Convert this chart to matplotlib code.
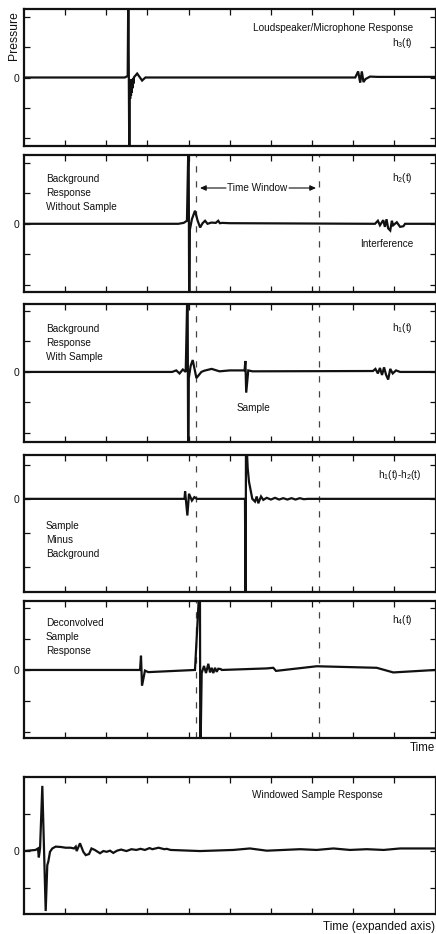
import matplotlib
matplotlib.use("Agg")
import matplotlib.pyplot as plt

plt.rcParams['font.family'] = ['Liberation Sans', 'DejaVu Sans']
plt.rcParams['mathtext.fontset'] = 'custom'
plt.rcParams['mathtext.rm'] = 'Liberation Sans'
plt.rcParams['mathtext.it'] = 'Liberation Sans'

# ---------------- data (time in arbitrary units 0..10) ----------------
# Panel 1: loudspeaker/microphone response h3(t)
t1 = [0, 2.45, 2.52, 2.535, 2.56, 2.57, 2.58, 2.59, 2.60, 2.61, 2.62, 2.63, 2.64, 2.65,
      2.66, 2.67, 2.68, 2.75, 2.87, 2.95, 8.05, 8.12, 8.17, 8.21, 8.25, 8.30, 8.41, 8.6, 10]
y1 = [0, 0.0, 0.05, 3.0, -3.0, -0.3, -0.7, -0.05, -0.6, -0.05, -0.5, -0.05, -0.35, -0.02,
      -0.2, 0.0, 0.02, 0.13, -0.1, 0.0, 0.0, 0.2, -0.17, 0.2, -0.15, -0.05, 0.03, 0.02, 0.02]

# Panel 2: background without sample h2(t)
t2 = [0, 3.75, 3.88, 3.96, 4.00, 4.015, 4.03, 4.08, 4.155, 4.22, 4.28, 4.34, 4.40, 4.46,
      4.55, 4.66, 4.72, 4.76, 4.82, 5.0, 8.53, 8.60, 8.65, 8.73, 8.77, 8.81, 8.85, 8.90,
      8.94, 8.97, 9.06, 9.14, 9.22, 9.26, 10]
y2 = [0, 0.0, 0.03, 0.1, 3.0, -3.0, -0.2, 0.15, 0.43, 0.1, -0.12, 0.02, 0.1, 0.0,
      0.04, 0.03, 0.1, 0.02, 0.03, 0.02, 0.0, 0.1, -0.05, 0.12, -0.1, 0.15, -0.15, -0.22,
      0.1, -0.05, 0.05, -0.1, -0.08, 0.0, 0.0]

# Panel 3: background with sample h1(t)
t3 = [0, 3.60, 3.70, 3.78, 3.86, 3.93, 3.975, 3.99, 4.005, 4.05, 4.10, 4.19, 4.31, 4.38,
      4.56, 4.75, 5.0, 5.36, 5.38, 5.40, 5.45, 5.55, 8.48, 8.54, 8.60, 8.65, 8.70, 8.75,
      8.80, 8.85, 8.90, 8.96, 9.04, 9.14, 10]
y3 = [0, 0.0, 0.05, -0.05, 0.08, 0.0, 3.0, -3.0, -0.2, 0.2, 0.39, -0.2, 0.0, 0.04,
      0.1, 0.02, 0.05, 0.05, 0.36, -0.68, 0.05, 0.02, 0.03, 0.1, -0.05, 0.13, -0.1, 0.15,
      -0.1, -0.25, 0.1, -0.05, 0.05, 0.0, 0.0]

# Panel 4: sample minus background h1(t)-h2(t)
t4 = [0, 3.90, 3.915, 3.97, 4.01, 4.08, 4.14, 4.20, 5.37, 5.385, 5.395, 5.436, 5.468,
      5.516, 5.548, 5.614, 5.655, 5.694, 5.76, 5.815, 5.898, 6.0, 6.1, 6.2, 6.3, 6.4,
      6.5, 6.6, 6.7, 6.8, 6.9, 10]
y4 = [0, 0.0, 0.22, -0.49, 0.15, -0.05, 0.05, 0.0, 0.0, -3.5, 2.0, 0.9, 0.5,
      0.2, 0.0, -0.08, 0.07, -0.13, 0.07, -0.03, 0.03, -0.02, 0.03, -0.02, 0.02, -0.02,
      0.02, -0.02, 0.02, -0.01, 0.0, 0.0]

# Panel 5: deconvolved sample response h4(t)
t5 = [0, 2.82, 2.843, 2.868, 2.94, 3.02, 4.155, 4.275, 4.285, 4.318, 4.374, 4.423, 4.479,
      4.52, 4.561, 4.60, 4.642, 4.683, 4.722, 4.78, 4.804, 5.898, 6.058, 6.124, 7.113,
      8.571, 8.974, 10]
y5 = [0, 0.0, 0.46, -0.51, -0.02, -0.07, 0.0, 3.0, -3.0, -0.1, 0.13, -0.1, 0.2,
      -0.08, 0.07, -0.1, 0.07, -0.06, 0.04, 0.03, 0.0, 0.05, 0.07, -0.03, 0.12,
      0.07, -0.08, 0.0]

# Panel 6: windowed sample response (expanded time axis)
t6 = [0, 0.28, 0.34, 0.36, 0.39, 0.445, 0.527, 0.566, 0.59, 0.632, 0.688, 0.77, 0.893,
      1.013, 1.135, 1.215, 1.257, 1.28, 1.361, 1.441, 1.5, 1.58, 1.64, 1.72, 1.847,
      1.928, 2.01, 2.09, 2.17, 2.26, 2.36, 2.49, 2.61, 2.73, 2.83, 2.94, 3.05, 3.12,
      3.27, 3.41, 3.47, 3.56, 4.28, 5.09, 5.49, 5.90, 6.71, 7.11, 7.52, 7.92, 8.33, 8.74,
      9.14, 10]
y6 = [0, 0.03, 0.07, -0.17, 0.07, 1.76, -1.62, -0.38, -0.29, -0.02, 0.07, 0.12, 0.11,
      0.09, 0.09, 0.07, 0.12, 0.0, 0.21, -0.02, -0.11, -0.08, 0.07, 0.03, -0.06,
      0.0, -0.02, 0.01, -0.05, 0.01, 0.04, 0.0, 0.05, 0.03, 0.06, 0.03, 0.08, 0.05,
      0.09, 0.05, 0.06, 0.03, 0.0, 0.03, 0.07, 0.01, 0.05, 0.03, 0.07, 0.03, 0.05, 0.03,
      0.07, 0.07]

window_edges = [4.19, 7.16]
x_ticks = [1, 2, 3, 4, 5, 6, 7, 8, 9]

# ---------------- layout ----------------
W, H = 436, 934
fig = plt.figure(figsize=(W / 100, H / 100), dpi=100)
left_px, right_px = 24, 435.5

panels = [
    # (top, bottom, t, y, ylim, yticks)
    (9, 146, t1, y1, (-2.25, 2.25), [-2, -1, 0, 1, 2]),
    (155, 292, t2, y2, (-2.24, 2.26), [-2, -1, 0, 1, 2]),
    (304, 442, t3, y3, (-2.3, 2.23), [-2, -1, 0, 1, 2]),
    (455, 592, t4, y4, (-2.74, 1.29), [-2, -1, 0, 1]),
    (601, 738, t5, y5, (-2.2, 2.23), [-2, -1, 0, 1, 2]),
    (777, 914, t6, y6, (-1.70, 2.0), [-1, 0, 1]),
]

axes = []
for i, (top, bot, t, y, ylim, yt) in enumerate(panels):
    ax = fig.add_axes([left_px / W, 1 - bot / H, (right_px - left_px) / W, (bot - top) / H])
    if 1 <= i <= 4:
        for xe in window_edges:
            ax.axvline(xe, color='#444444', lw=0.9, ls=(0, (5, 7)), zorder=1)
    ax.plot(t, y, color='#111111', lw=1.6, solid_joinstyle='miter', zorder=3)
    ax.set_xlim(0, 10)
    ax.set_ylim(*ylim)
    ax.set_xticks(x_ticks)
    ax.set_xticklabels([])
    ax.set_yticks(yt)
    ax.set_yticklabels(['0' if v == 0 else '' for v in yt])
    ax.tick_params(direction='in', length=4, width=0.9, top=True, right=True,
                   labelsize=7.5, pad=3, colors='#111111')
    for sp in ax.spines.values():
        sp.set_linewidth(1.6)
        sp.set_color('#111111')
    axes.append(ax)

fs = 7.2
tc = '#111111'

def ftext(x_px, y_px, s, ha='left', va='center', size=fs):
    fig.text(x_px / W, 1 - y_px / H, s, ha=ha, va=va, fontsize=size, color=tc,
             linespacing=1.5)

# Panel 1
fig.text(14 / W, 1 - 35.5 / H, 'Pressure', rotation=90, ha='center', va='center',
         fontsize=8.7, color=tc)
ftext(413, 28, 'Loudspeaker/Microphone Response', ha='right')
ftext(413, 43, r'h$_{3}$(t)', ha='right')

# Panel 2
ftext(46, 193, 'Background\nResponse\nWithout Sample')
ftext(413, 178, r'h$_{2}$(t)', ha='right')
ftext(257.5, 188, 'Time Window', ha='center')
ftext(387, 244, 'Interference', ha='center')
for x0, x1 in [(226, 200), (289, 316)]:
    fig.add_artist(matplotlib.patches.FancyArrowPatch(
        (x0 / W, 1 - 188 / H), (x1 / W, 1 - 188 / H), transform=fig.transFigure,
        arrowstyle='-|>,head_length=3.5,head_width=1.6', color=tc, lw=0.8,
        shrinkA=0, shrinkB=0))

# Panel 3
ftext(46, 343, 'Background\nResponse\nWith Sample')
ftext(413, 328, r'h$_{1}$(t)', ha='right')
ftext(253, 408, 'Sample', ha='center')

# Panel 4
ftext(421, 475, r'h$_{1}$(t)-h$_{2}$(t)', ha='right')
ftext(46, 540, 'Sample\nMinus\nBackground')

# Panel 5
ftext(46, 637, 'Deconvolved\nSample\nResponse')
ftext(413, 620, r'h$_{4}$(t)', ha='right')
ftext(435, 748, 'Time', ha='right', size=8.3)

# Panel 6
ftext(383, 795, 'Windowed Sample Response', ha='right')
ftext(435, 927, 'Time (expanded axis)', ha='right', size=8.4)

fig.savefig('out.png', dpi=100)
